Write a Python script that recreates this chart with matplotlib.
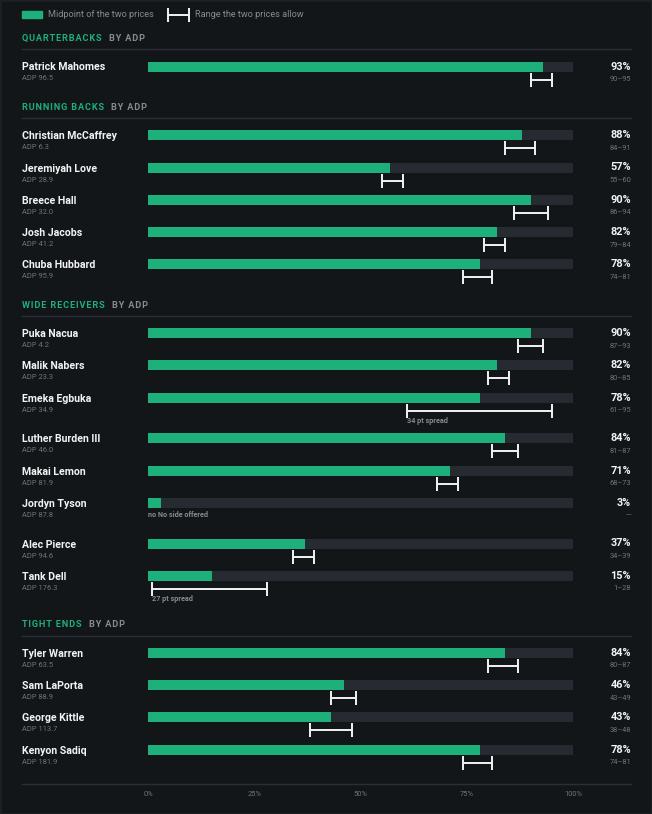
import matplotlib
matplotlib.use('Agg')
import matplotlib.pyplot as plt
from matplotlib.patches import Rectangle

# Draft-day prices by position: midpoint of two books and the range they allow
sections = ['QUARTERBACKS', 'RUNNING BACKS', 'WIDE RECEIVERS', 'TIGHT ENDS']

qb_names = ['Patrick Mahomes']
qb_adp = [96.5]
qb_mid = [93]
qb_low = [90]
qb_high = [95]

rb_names = ['Christian McCaffrey', 'Jeremiyah Love', 'Breece Hall', 'Josh Jacobs', 'Chuba Hubbard']
rb_adp = [6.3, 28.9, 32.0, 41.2, 95.9]
rb_mid = [88, 57, 90, 82, 78]
rb_low = [84, 55, 86, 79, 74]
rb_high = [91, 60, 94, 84, 81]

wr_names = ['Puka Nacua', 'Malik Nabers', 'Emeka Egbuka', 'Luther Burden III',
            'Makai Lemon', 'Jordyn Tyson', 'Alec Pierce', 'Tank Dell']
wr_adp = [4.2, 23.3, 34.9, 46.0, 81.9, 87.8, 94.6, 176.3]
wr_mid = [90, 82, 78, 84, 71, 3, 37, 15]
wr_low = [87, 80, 61, 81, 68, None, 34, 1]
wr_high = [93, 85, 95, 87, 73, None, 39, 28]

te_names = ['Tyler Warren', 'Sam LaPorta', 'George Kittle', 'Kenyon Sadiq']
te_adp = [63.5, 88.9, 113.7, 181.9]
te_mid = [84, 46, 43, 78]
te_low = [80, 43, 38, 74]
te_high = [87, 49, 48, 81]

x_ticks = [0, 25, 50, 75, 100]

BG = '#131619'
TRACK = '#262a31'
GREEN = '#1db07b'
WHITE = '#f2f3f4'
GRAY = '#868b92'
DIM = '#6f747b'
RULE = '#2b2f35'
FONT = ['Roboto', 'DejaVu Sans']


def px(x):
    # figure pixel -> bar axis units (0% at 148 px, 100% at 573 px)
    return (x - 148) / 4.25


def spaced(s):
    return '\u200a'.join(s)


def main():
    plt.rcParams['font.family'] = FONT
    fig = plt.figure(figsize=(6.52, 8.14), dpi=100, facecolor=BG)
    ax = fig.add_axes([148 / 652, 0, 425 / 652, 1])
    ax.set_xlim(0, 100)
    ax.set_ylim(814, 0)
    ax.axis('off')
    fig.patches.append(Rectangle((0, 0), 1, 1, transform=fig.transFigure,
                                 fill=False, edgecolor='#1d2024', linewidth=2))

    # legend
    ax.add_patch(Rectangle((px(22), 11), px(42) - px(22), 7, color=GREEN, clip_on=False))
    ax.text(px(48), 14.5, 'Midpoint of the two prices', color=GRAY, fontsize=6.6,
            va='center', ha='left')
    ax.errorbar([(px(168) + px(189)) / 2], [14.5], xerr=[(px(189) - px(168)) / 2],
                fmt='none', ecolor=WHITE, elinewidth=1.4, capsize=5.3, capthick=1.4,
                clip_on=False)
    ax.text(px(195), 14.5, 'Range the two prices allow', color=GRAY, fontsize=6.6,
            va='center', ha='left')

    groups = [
        (qb_names, qb_adp, qb_mid, qb_low, qb_high),
        (rb_names, rb_adp, rb_mid, rb_low, rb_high),
        (wr_names, wr_adp, wr_mid, wr_low, wr_high),
        (te_names, te_adp, te_mid, te_low, te_high),
    ]

    y = 38.5
    for title, (names, adp, mid, low, high) in zip(sections, groups):
        # section header
        t = ax.text(px(22), y, spaced(title), color=GREEN, fontsize=6.6,
                    fontweight='bold', va='center', ha='left')
        fig.canvas.draw()
        bb = t.get_window_extent().transformed(ax.transData.inverted())
        ax.text(bb.x1 + 1.7, y, spaced('BY ADP'), color=GRAY, fontsize=6.6,
                fontweight='bold', va='center', ha='left')
        ax.plot([px(22), px(631)], [y + 10.8, y + 10.8], color=RULE, lw=1.0,
                clip_on=False)
        y += 28
        ys = []
        extra = 0
        for i in range(len(names)):
            y += extra
            ys.append(y)
            extra = 0
            lo, hi = low[i], high[i]
            ax.text(px(22), y + 1, names[i], color=WHITE, fontsize=7.6,
                    fontweight='bold', va='center', ha='left')
            ax.text(px(22), y + 12.5, f'ADP {adp[i]:.1f}', color=DIM, fontsize=5.4,
                    va='center', ha='left')
            ax.text(px(631), y, f'{mid[i]}%', color=WHITE, fontsize=7.8,
                    fontweight='bold', va='center', ha='right')
            if lo is None:
                ax.text(px(631), y + 13, '\u2014', color=DIM, fontsize=5.4,
                        va='center', ha='right')
                ax.text(0, y + 12, 'no No side offered', color=GRAY, fontsize=5.2,
                        fontweight='bold', va='center', ha='left')
                extra = 8.3
            else:
                ax.text(px(631), y + 13, f'{lo}\u2013{hi}', color=DIM, fontsize=5.4,
                        va='center', ha='right')
                ax.errorbar([(lo + hi) / 2], [y + 13], xerr=[(hi - lo) / 2],
                            fmt='none', ecolor=WHITE, elinewidth=1.4, capsize=5.3,
                            capthick=1.4, clip_on=False)
                if hi - lo >= 15:
                    ax.text(lo, y + 23.5, f'{hi - lo} pt spread', color=GRAY,
                            fontsize=5.2, fontweight='bold', va='center', ha='left')
                    extra = 8.3
            if i < len(names) - 1:
                y += 32.3
        ax.barh(ys, [100] * len(ys), height=10, color=TRACK)
        ax.barh(ys, mid, height=10, color=GREEN)
        y += 40.7 + extra

    # bottom scale
    y_line = y - 40.7 + 34 - extra
    ax.plot([px(22), px(631)], [y_line, y_line], color=RULE, lw=1.0, clip_on=False)
    for tk in x_ticks:
        ax.text(tk, y_line + 10.5, f'{tk}%', color=DIM, fontsize=5.4,
                va='center', ha='center')

    fig.savefig('out.png', dpi=100, facecolor=BG)


if __name__ == '__main__':
    main()
